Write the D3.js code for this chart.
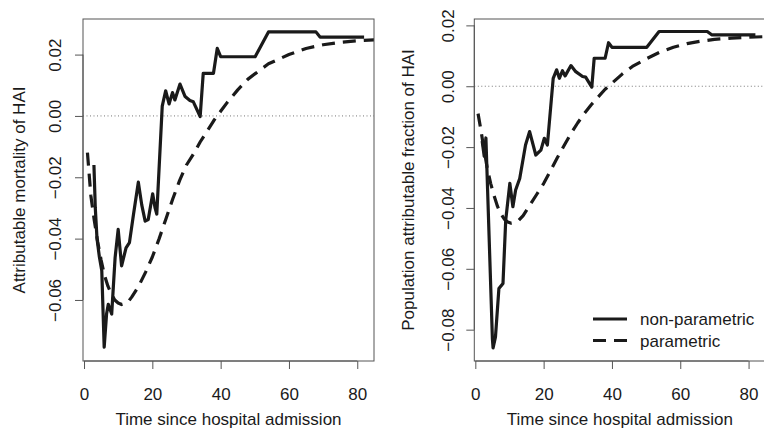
<!DOCTYPE html>
<html>
<head>
<meta charset="utf-8">
<script src="https://cdn.jsdelivr.net/npm/d3@7"></script>
<style>
  body { margin: 0; background: #fff; }
  svg { display: block; font-family: "Liberation Sans", Arial, sans-serif; }
</style>
</head>
<body>
<div id="chart"></div>
<script>
// left panel: attributable mortality
var amTimeNP = [2.9, 3.3, 3.8, 4.5, 5.2, 5.9, 6.6, 7.1, 8.1, 9.1, 10.0, 11.0, 12.3, 13.3, 14.5, 15.9, 16.9, 17.9, 18.8, 20.1, 20.8, 21.3, 22.9, 23.9, 24.9, 25.9, 26.6, 28.1, 29.6, 31.0, 32.0, 34.0, 34.9, 37.9, 39.0, 40.0, 50.1, 54.0, 67.9, 69.1, 82.0];
var amValNP  = [-0.016, -0.030, -0.040, -0.046, -0.0505, -0.0754, -0.0646, -0.0614, -0.0646, -0.0462, -0.037, -0.0489, -0.043, -0.0413, -0.032, -0.0216, -0.029, -0.0343, -0.0338, -0.0254, -0.030, -0.032, 0.0032, 0.0082, 0.0039, 0.0076, 0.0052, 0.0104, 0.0063, 0.005, 0.0046, -0.0002, 0.0139, 0.0139, 0.022, 0.0193, 0.0193, 0.0274, 0.0274, 0.0257, 0.0257];
var amTimeP  = [1, 2, 3, 4, 5, 6, 7, 8, 9, 10, 11, 12, 13, 14, 16, 18, 20, 22, 24, 26, 28, 30, 32, 34, 36, 38, 40, 42, 45, 48, 51, 54, 57, 60, 65, 70, 75, 80, 85];
var amValP   = [-0.012, -0.026, -0.034, -0.041, -0.047, -0.052, -0.0555, -0.058, -0.060, -0.061, -0.0615, -0.0612, -0.0605, -0.059, -0.0555, -0.051, -0.046, -0.040, -0.0335, -0.027, -0.021, -0.016, -0.0125, -0.0085, -0.005, -0.0015, 0.0015, 0.0045, 0.0085, 0.012, 0.0145, 0.017, 0.0185, 0.020, 0.022, 0.0232, 0.024, 0.0245, 0.0248];

// right panel: population attributable fraction
var pafTimeNP = [2.0, 2.6, 3.1, 5.0, 5.2, 5.9, 6.9, 8.1, 8.9, 10.1, 11.0, 11.8, 13.0, 14.7, 15.9, 17.7, 19.2, 20.2, 21.1, 22.8, 23.8, 24.6, 25.5, 26.3, 28.0, 29.4, 31.4, 32.3, 34.1, 34.8, 38.0, 39.0, 40.0, 50.2, 53.8, 67.9, 69.2, 82.0];
var pafValNP  = [-0.018, -0.023, -0.017, -0.083, -0.086, -0.0824, -0.0665, -0.0648, -0.044, -0.0319, -0.0396, -0.0341, -0.0303, -0.0193, -0.0149, -0.0226, -0.021, -0.0171, -0.0193, 0.0026, 0.0054, 0.0026, 0.0051, 0.0034, 0.0068, 0.0048, 0.0032, 0.003, -0.0003, 0.0092, 0.0092, 0.0143, 0.0128, 0.0128, 0.018, 0.018, 0.0169, 0.0169];
var pafTimeP  = [0.8, 1.5, 2.5, 3.5, 4.5, 5.5, 6.5, 7.5, 8.5, 9.5, 10.5, 11.5, 12.5, 14, 16, 18, 20, 22, 24, 26, 28, 30, 32, 34, 36, 38, 40, 43, 46, 50, 54, 58, 62, 66, 70, 75, 80, 85];
var pafValP   = [-0.009, -0.0135, -0.0205, -0.027, -0.032, -0.036, -0.0395, -0.042, -0.0437, -0.0446, -0.045, -0.0448, -0.0443, -0.0425, -0.039, -0.0355, -0.032, -0.0278, -0.0235, -0.0195, -0.0155, -0.012, -0.0088, -0.006, -0.0035, -0.001, 0.001, 0.004, 0.0065, 0.009, 0.0112, 0.0128, 0.014, 0.0148, 0.0154, 0.0158, 0.0161, 0.0163];

var xTicks = [0, 20, 40, 60, 80];
var amTicks = [-0.06, -0.04, -0.02, 0.00, 0.02];
var pafTicks = [-0.08, -0.06, -0.04, -0.02, 0.00, 0.02];
var legendLabels = ["non-parametric", "parametric"];

var w = 764, h = 429;
var ink = "#1a1a1a";
var fs = 17; // font size, R cex looks about this big here

var svg = d3.select("#chart").append("svg")
    .attr("width", w)
    .attr("height", h);

function drawPanel(id, left, yDomain, yTicks, yTitle, tickX, titleX, curves) {
    var top = 19, bottom = 361, pw = 291;
    var x = d3.scaleLinear().domain([-0.3, 84.9]).range([left, left + pw]);
    var y = d3.scaleLinear().domain(yDomain).range([bottom, top]);

    var g = svg.append("g");

    svg.append("clipPath").attr("id", "clip" + id)
        .append("rect")
        .attr("x", left).attr("y", top)
        .attr("width", pw).attr("height", bottom - top);

    // dotted zero line
    g.append("line")
        .attr("x1", left).attr("x2", left + pw)
        .attr("y1", y(0)).attr("y2", y(0))
        .attr("stroke", "#777")
        .attr("stroke-width", 1)
        .attr("stroke-dasharray", "1,2.5");

    var line = d3.line().x(d => x(d[0])).y(d => y(d[1]));

    curves.forEach(c => {
        g.append("path")
            .datum(d3.zip(c.t, c.v))
            .attr("clip-path", "url(#clip" + id + ")")
            .attr("d", line)
            .attr("fill", "none")
            .attr("stroke", ink)
            .attr("stroke-width", 3.2)
            .attr("stroke-linejoin", "round")
            .attr("stroke-dasharray", c.dash ? "13,8" : null);
    });

    // box
    g.append("rect")
        .attr("x", left).attr("y", top)
        .attr("width", pw).attr("height", bottom - top)
        .attr("fill", "none")
        .attr("stroke", "#555")
        .attr("stroke-width", 1);

    // x axis, R style
    var xa = g.append("g")
        .attr("transform", "translate(0," + bottom + ")")
        .call(d3.axisBottom(x).tickValues(xTicks).tickSize(8).tickFormat(d3.format("d")));
    xa.select(".domain").attr("d", "M" + x(0) + ",0H" + x(80)).attr("stroke", "#555");
    xa.selectAll(".tick line").attr("stroke", "#555");
    xa.selectAll("text")
        .attr("y", 39).attr("dy", null)
        .attr("font-size", fs).attr("fill", ink).attr("font-family", null);

    // y axis with rotated labels
    var ya = g.append("g")
        .attr("transform", "translate(" + left + ",0)")
        .call(d3.axisLeft(y).tickValues(yTicks).tickSize(8).tickFormat(d3.format(".2f")));
    ya.select(".domain").attr("d", "M0," + y(yTicks[0]) + "V" + y(yTicks[yTicks.length - 1])).attr("stroke", "#555");
    ya.selectAll(".tick line").attr("stroke", "#555");
    ya.selectAll("text")
        .attr("x", null).attr("dy", null)
        .attr("font-size", fs).attr("fill", ink).attr("font-family", null)
        .attr("text-anchor", "middle")
        .attr("transform", "translate(" + (tickX - left) + ",0) rotate(-90)");

    g.append("text")
        .attr("transform", "translate(" + titleX + "," + ((top + bottom) / 2) + ") rotate(-90)")
        .attr("text-anchor", "middle")
        .attr("font-size", fs)
        .attr("fill", ink)
        .text(yTitle);

    g.append("text")
        .attr("x", left + pw / 2)
        .attr("y", 425)
        .attr("text-anchor", "middle")
        .attr("font-size", fs)
        .attr("fill", ink)
        .text("Time since hospital admission");
}

drawPanel("L", 83, [-0.0799, 0.0316], amTicks, "Attributable mortality of HAI", 61, 25,
    [{ t: amTimeNP, v: amValNP, dash: false }, { t: amTimeP, v: amValP, dash: true }]);

drawPanel("R", 474.3, [-0.0903, 0.0221], pafTicks, "Population attributable fraction of HAI", 453.5, 414,
    [{ t: pafTimeNP, v: pafValNP, dash: false }, { t: pafTimeP, v: pafValP, dash: true }]);

// legend in right panel
var legend = svg.append("g");
legendLabels.forEach((lab, i) => {
    var ly = 319 + i * 21.5;
    legend.append("line")
        .attr("x1", 593).attr("x2", 627)
        .attr("y1", ly).attr("y2", ly)
        .attr("stroke", ink)
        .attr("stroke-width", 3.2)
        .attr("stroke-dasharray", i == 1 ? "13,8" : null);
    legend.append("text")
        .attr("x", 640)
        .attr("y", ly + 6)
        .attr("font-size", fs)
        .attr("fill", ink)
        .text(lab);
});
</script>
</body>
</html>
